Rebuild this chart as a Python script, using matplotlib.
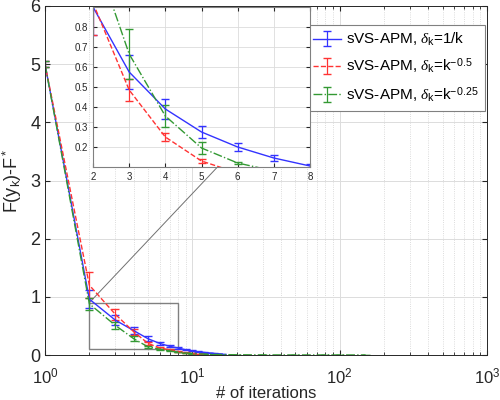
import matplotlib
matplotlib.use("Agg")
import matplotlib.pyplot as plt
from matplotlib.patches import Rectangle

plt.rcParams['font.family'] = ['Liberation Sans', 'DejaVu Sans']
plt.rcParams['mathtext.fontset'] = 'custom'
plt.rcParams['mathtext.rm'] = 'Liberation Sans'
plt.rcParams['mathtext.it'] = 'Liberation Serif:italic'

# main plot data (mean and std over runs)
x_blue = [1, 2, 3, 4, 5, 6, 7, 8, 9, 10, 11, 12, 13, 14, 15, 16]
y_blue = [5.0, 0.96, 0.60, 0.42, 0.28, 0.20, 0.15, 0.12, 0.09, 0.07, 0.055, 0.045, 0.035, 0.027, 0.02, 0.015]
e_blue = [0.05, 0.16, 0.08, 0.06, 0.04, 0.02, 0.015, 0.012, 0.01, 0.008, 0.006, 0.005, 0.004, 0.003, 0.003, 0.002]

x_red = [1, 2, 3, 4, 5, 6, 7, 8, 9, 10, 11, 12]
y_red = [5.0, 1.20, 0.70, 0.40, 0.20, 0.12, 0.09, 0.06, 0.04, 0.025, 0.015, 0.01]
e_red = [0.05, 0.22, 0.09, 0.05, 0.03, 0.02, 0.012, 0.008, 0.006, 0.004, 0.003, 0.002]

x_green = [1, 2, 3, 4, 5, 6, 7, 8, 9, 10, 12, 14, 16, 20, 30, 50, 80, 100, 150]
y_green = [5.0, 0.88, 0.51, 0.28, 0.14, 0.10, 0.07, 0.05, 0.035, 0.025, 0.015, 0.01, 0.007, 0.004, 0.002, 0.001, 0.001, 0.001, 0.001]
e_green = [0.05, 0.10, 0.06, 0.04, 0.02, 0.01, 0.008, 0.006, 0.004, 0.003, 0.002, 0.002, 0.001, 0.001, 0.001, 0.0005, 0.0005, 0.0005, 0.0005]

# zoomed inset data
xi = [2, 3, 4, 5, 6, 7, 8]
yi_blue = [0.90, 0.575, 0.39, 0.275, 0.20, 0.145, 0.105]
ei_blue = [0.14, 0.085, 0.05, 0.03, 0.02, 0.013, 0.01]
yi_red = [0.92, 0.485, 0.25, 0.13, 0.07, 0.04, 0.025]
ei_red = [0.16, 0.055, 0.02, 0.01, 0.01, 0.005, 0.004]
yi_green = [1.19, 0.665, 0.355, 0.195, 0.12, 0.08, 0.05]
ei_green = [0.12, 0.125, 0.055, 0.03, 0.005, 0.005, 0.004]

labels = [r'sVS-APM, $\delta_{\rm k}$=1/k',
          r'sVS-APM, $\delta_{\rm k}$=k$^{-0.5}$',
          r'sVS-APM, $\delta_{\rm k}$=k$^{-0.25}$']
c_blue, c_red, c_green = '#3333ff', '#ff3333', '#339933'
axcol = '#262626'

fig = plt.figure(figsize=(5, 4), dpi=100)
ax = fig.add_axes([0.09, 0.1125, 0.884, 0.8725])

ax.errorbar(x_blue, y_blue, yerr=e_blue, color=c_blue, ls='-', lw=1, capsize=3, elinewidth=0.9, label=labels[0])
ax.errorbar(x_red, y_red, yerr=e_red, color=c_red, ls='--', lw=1, capsize=3, elinewidth=0.9, label=labels[1])
ax.errorbar(x_green, y_green, yerr=e_green, color=c_green, ls='-.', lw=1, capsize=3, elinewidth=0.9, label=labels[2])

ax.set_xscale('log')
ax.set_xlim(1, 1000)
ax.set_ylim(0, 6)
ax.set_yticks(range(0, 7))
ax.grid(True, which='major', color='#dcdcdc', lw=0.7)
ax.grid(True, which='minor', axis='x', color='#d0d0d0', lw=0.6, ls=':')
ax.set_axisbelow(True)
ax.tick_params(which='both', direction='in', top=True, right=True, colors=axcol, labelsize=13)
ax.tick_params(axis='x', labelsize=12, pad=8)
for s in ax.spines.values():
    s.set_color(axcol)
    s.set_linewidth(0.7)
ax.set_xlabel('# of iterations', fontsize=12, color=axcol, labelpad=0)
ax.set_ylabel(r'F(y$_{\rm k}$)-F$^*$', fontsize=13, color=axcol, labelpad=4)

# zoom box and connector lines
ax.add_patch(Rectangle((2, 0.1), 6, 0.8, fill=False, edgecolor='#808080', lw=1))
ax.plot([2, 21.2], [0.9, 3.65], color='#707070', lw=0.7)
ax.plot([59.7, 74.3], [4.99, 5.13], color='#707070', lw=0.7)

leg = ax.legend(loc='upper right', bbox_to_anchor=(0.995, 0.946), borderaxespad=0,
                fontsize=11, fancybox=False, framealpha=1, edgecolor='#808080',
                handlelength=1.8, handletextpad=0.35, labelspacing=0.55, borderpad=0.4)
leg.get_frame().set_linewidth(0.8)

# inset
axi = fig.add_axes([0.186, 0.5825, 0.434, 0.40])
axi.errorbar(xi, yi_blue, yerr=ei_blue, color=c_blue, ls='-', lw=1, capsize=3, elinewidth=0.9)
axi.errorbar(xi, yi_red, yerr=ei_red, color=c_red, ls='--', lw=1, capsize=3, elinewidth=0.9)
axi.errorbar(xi, yi_green, yerr=ei_green, color=c_green, ls='-.', lw=1, capsize=3, elinewidth=0.9)
axi.set_xlim(2, 8)
axi.set_ylim(0.1, 0.9)
axi.set_xticks(range(2, 9))
axi.set_yticks([0.2, 0.3, 0.4, 0.5, 0.6, 0.7, 0.8])
axi.grid(True, color='#dcdcdc', lw=0.6)
axi.set_axisbelow(True)
axi.tick_params(direction='in', top=True, right=True, colors=axcol, labelsize=7, length=3)
for s in axi.spines.values():
    s.set_color('#808080')
    s.set_linewidth(0.8)

fig.savefig('out.png', dpi=100)
